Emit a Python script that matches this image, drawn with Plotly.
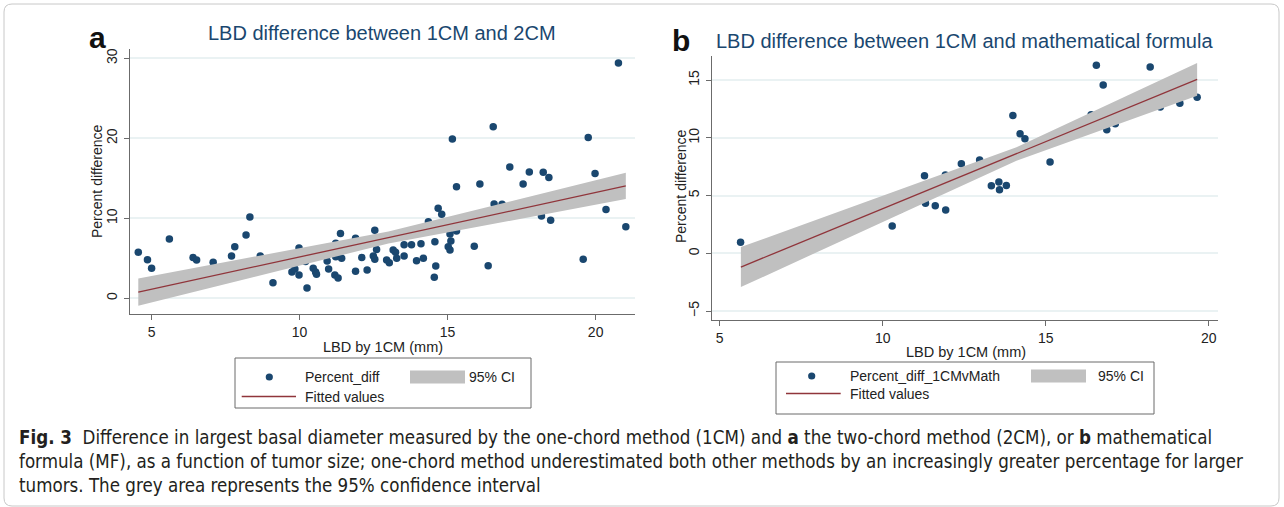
import plotly.graph_objects as go

W, H = 1284, 507

# ---------------- data: panel a (1CM vs 2CM) ----------------
a_x = [4.55, 4.86, 5.0, 5.6, 6.4, 6.52, 7.08, 7.7, 7.81, 8.19, 8.32, 8.67, 9.1, 9.74, 9.84,
       9.98, 9.98, 10.2, 10.25, 10.46, 10.54, 10.57, 10.93, 10.98, 11.22, 11.22, 11.19, 11.3,
       11.38, 11.42, 11.89, 11.89, 12.1, 12.28, 12.54, 12.49, 12.54, 12.6, 12.94, 13.03, 13.16,
       13.24, 13.28, 13.53, 13.53, 13.78, 13.95, 14.1, 14.18, 14.35, 14.57, 14.6, 14.55, 14.68,
       14.8, 15.08, 15.11, 15.02, 15.08, 15.3, 15.3, 20.77, 16.54, 15.16, 19.75, 17.1, 17.76,
       18.23, 18.42, 19.98, 17.55, 16.09, 16.57, 16.84, 20.35, 18.17, 18.48, 21.02, 15.9, 16.37,
       19.58]
a_y = [5.75, 4.83, 3.75, 7.4, 5.1, 4.8, 4.5, 5.3, 6.45, 7.9, 10.15, 5.3, 1.95, 3.3, 3.65,
       6.3, 2.9, 4.6, 1.3, 3.75, 3.3, 3.0, 4.66, 3.66, 6.87, 5.2, 2.9, 2.54,
       8.1, 5.0, 7.5, 3.37, 5.1, 3.54, 8.5, 5.3, 4.87, 6.1, 4.8, 4.45, 6.04,
       5.75, 5.0, 6.7, 5.29, 6.7, 4.7, 6.83, 5.0, 9.58, 7.08, 4.04, 2.62, 11.25,
       10.5, 8.04, 7.16, 6.45, 6.04, 8.4, 13.95, 29.4, 21.45, 19.9, 20.1, 16.4, 15.8,
       15.75, 15.1, 15.6, 14.3, 14.3, 11.8, 11.75, 11.1, 10.3, 9.75, 8.95, 6.5, 4.08,
       4.87]
# fitted line and 95% CI
a_fit_x = [4.55, 13.0, 21.02]
a_fit_y = [0.78, 7.6, 14.05]
a_ci_lo = [-0.92, 6.85, 12.4]
a_ci_hi = [2.48, 8.35, 15.7]

# ---------------- data: panel b (1CM vs mathematical formula) ----------------
b_x = [5.64, 10.29, 10.53, 11.28, 11.31, 11.61, 11.92, 11.93, 12.41, 12.97, 13.33, 13.56,
       13.58, 13.79, 13.99, 14.21, 14.36, 15.13, 16.39, 16.55, 16.76, 16.87, 17.13, 18.2,
       18.51, 19.11, 19.64]
b_y = [0.95, 2.36, 3.8, 6.72, 4.33, 4.12, 6.78, 3.75, 7.76, 8.08, 5.85, 6.17,
       5.5, 5.88, 11.94, 10.35, 9.92, 7.9, 12.0, 16.27, 14.57, 10.7, 11.22, 16.13,
       12.66, 12.98, 13.5]
b_fit_x = [5.65, 14.1, 19.64]
b_fit_y = [-1.19, 8.6, 15.06]
b_ci_lo = [-2.92, 8.02, 13.65]
b_ci_hi = [0.54, 9.18, 16.47]

a_xticks = [5, 10, 15, 20]
a_yticks = [0, 10, 20, 30]
b_xticks = [5, 10, 15, 20]
b_yticks = [-5, 0, 5, 10, 15]

title_a = "LBD difference between 1CM and 2CM"
title_b = "LBD difference between 1CM and mathematical formula"
xlab = "LBD by 1CM (mm)"
ylab = "Percent difference"
leg_a = ["Percent_diff", "95% CI", "Fitted values"]
leg_b = ["Percent_diff_1CMvMath", "95% CI", "Fitted values"]
caption = ("<b>Fig. 3</b>&nbsp; Difference in largest basal diameter measured by the one-chord method (1CM) and "
           "<b>a</b> the two-chord method (2CM), or <b>b</b> mathematical<br>"
           "formula (MF), as a function of tumor size; one-chord method underestimated both other methods "
           "by an increasingly greater percentage for larger<br>"
           "tumors. The grey area represents the 95% confidence interval")

NAVY = "#1a476f"
MAROON = "#90353b"
BAND = "#c0c0c0"
GRID = "#eaf2f3"
AXC = "#6b6b6b"
FONT = "Liberation Sans, Arial, sans-serif"


def px(x):
    return x / W


def py(y):
    return 1 - y / H


fig = go.Figure()


def add_panel(xs, ys, fx, fy, lo, hi, xa, ya):
    fig.add_trace(go.Scatter(x=xs, y=ys, mode="markers", xaxis=xa, yaxis=ya,
                             marker=dict(color=NAVY, size=7.5, line=dict(width=0)),
                             showlegend=False, hoverinfo="skip"))
    fig.add_trace(go.Scatter(x=fx, y=lo, mode="lines", line=dict(width=0, color=BAND),
                             xaxis=xa, yaxis=ya, showlegend=False, hoverinfo="skip"))
    fig.add_trace(go.Scatter(x=fx, y=hi, mode="lines", line=dict(width=0, color=BAND),
                             fill="tonexty", fillcolor=BAND,
                             xaxis=xa, yaxis=ya, showlegend=False, hoverinfo="skip"))
    fig.add_trace(go.Scatter(x=fx, y=fy, mode="lines", line=dict(width=1.3, color=MAROON),
                             xaxis=xa, yaxis=ya, showlegend=False, hoverinfo="skip"))


add_panel(a_x, a_y, a_fit_x, a_fit_y, a_ci_lo, a_ci_hi, "x", "y")
add_panel(b_x, b_y, b_fit_x, b_fit_y, b_ci_lo, b_ci_hi, "x2", "y2")

axis_common = dict(showline=True, linecolor=AXC, linewidth=1, ticks="outside", ticklen=5,
                   tickcolor=AXC, tickwidth=1, zeroline=False,
                   tickfont=dict(family=FONT, size=14, color="#222222"))

fig.update_layout(
    width=W, height=H, margin=dict(l=0, r=0, t=0, b=0),
    paper_bgcolor="white", plot_bgcolor="white", showlegend=False,
    xaxis=dict(domain=[px(130), px(635)], range=[4.27, 21.33], tickvals=a_xticks,
               showgrid=False, anchor="y", **axis_common),
    yaxis=dict(domain=[py(314), py(49)], range=[-1.96, 31.16], tickvals=a_yticks,
               showgrid=True, gridcolor=GRID, gridwidth=1.5, tickangle=-90, anchor="x",
               ticklabelstandoff=1, **axis_common),
    xaxis2=dict(domain=[px(712), px(1218)], range=[4.764, 20.28], tickvals=b_xticks,
                showgrid=False, anchor="y2", **axis_common),
    yaxis2=dict(domain=[py(320), py(56)], range=[-5.77, 17.08], tickvals=b_yticks,
                showgrid=True, gridcolor=GRID, gridwidth=1.5, tickangle=-90, anchor="x2",
                ticklabelstandoff=1, **axis_common),
)

ann = []
shapes = []


def text(x, y, s, size, color="#222222", bold=False, xanchor="center", angle=0, family=FONT):
    ann.append(dict(x=px(x), y=py(y), xref="paper", yref="paper", text=f"<b>{s}</b>" if bold else s,
                    showarrow=False, xanchor=xanchor, yanchor="middle", textangle=angle,
                    font=dict(family=family, size=size, color=color)))


# panel letters and titles
text(97, 38, "a", 30, color="#111111", bold=True)
text(681, 41, "b", 30, color="#111111", bold=True)
text(382, 33, title_a, 20, color=NAVY)
text(965, 41, title_b, 20, color=NAVY)
# axis titles
text(383, 347, xlab, 14.5)
text(966, 352, xlab, 14.5)
text(97, 181, ylab, 14, angle=-90)
text(681, 186, ylab, 14, angle=-90)


def legend(box, r1, r2, mk_x, line_x, txt_x, rect_x, ci_x, labels):
    x0, y0, x1, y1 = box
    shapes.append(dict(type="rect", xref="paper", yref="paper", x0=px(x0), x1=px(x1),
                       y0=py(y1), y1=py(y0), line=dict(color="#6b6b6b", width=1),
                       fillcolor="white"))
    shapes.append(dict(type="circle", xref="paper", yref="paper", x0=px(mk_x - 3.6),
                       x1=px(mk_x + 3.6), y0=py(r1 + 3.6), y1=py(r1 - 3.6),
                       fillcolor=NAVY, line=dict(width=0)))
    shapes.append(dict(type="line", xref="paper", yref="paper", x0=px(line_x[0]), x1=px(line_x[1]),
                       y0=py(r2), y1=py(r2), line=dict(color=MAROON, width=1.3)))
    shapes.append(dict(type="rect", xref="paper", yref="paper", x0=px(rect_x[0]), x1=px(rect_x[1]),
                       y0=py(r1 + 6.5), y1=py(r1 - 6.5), fillcolor=BAND, line=dict(width=0)))
    text(txt_x, r1, labels[0], 14, xanchor="left")
    text(ci_x, r1, labels[1], 14, xanchor="left")
    text(txt_x, r2, labels[2], 14, xanchor="left")


legend((235, 358, 531, 408), 377, 396.5, 269.3, (241.7, 296), 303, (410, 465), 467, leg_a)
legend((776, 362, 1154, 414), 376, 393.5, 811.7, (786, 840.7), 848.5, (1031, 1086), 1096, leg_b)

# caption
ann.append(dict(x=px(17), y=py(461), xref="paper", yref="paper", text=caption, showarrow=False,
                xanchor="left", yanchor="middle", align="left",
                font=dict(family="Liberation Sans Narrow, DejaVu Sans Condensed, sans-serif",
                          size=18.6, color="#231f20")))

# card border (rounded)
r = 8
x0, y0, x1, y1 = 4, 4, 1279, 506
path = (f"M {px(x0 + r)},{py(y0)} L {px(x1 - r)},{py(y0)} Q {px(x1)},{py(y0)} {px(x1)},{py(y0 + r)} "
        f"L {px(x1)},{py(y1 - r)} Q {px(x1)},{py(y1)} {px(x1 - r)},{py(y1)} "
        f"L {px(x0 + r)},{py(y1)} Q {px(x0)},{py(y1)} {px(x0)},{py(y1 - r)} "
        f"L {px(x0)},{py(y0 + r)} Q {px(x0)},{py(y0)} {px(x0 + r)},{py(y0)} Z")
shapes.append(dict(type="path", xref="paper", yref="paper", path=path,
                   line=dict(color="#c8c8c8", width=1), layer="below"))

fig.update_layout(annotations=ann, shapes=shapes)
fig.write_html("out.html", config={"displayModeBar": False},
               post_script="document.body.style.margin='0';document.body.style.overflow='hidden';")
